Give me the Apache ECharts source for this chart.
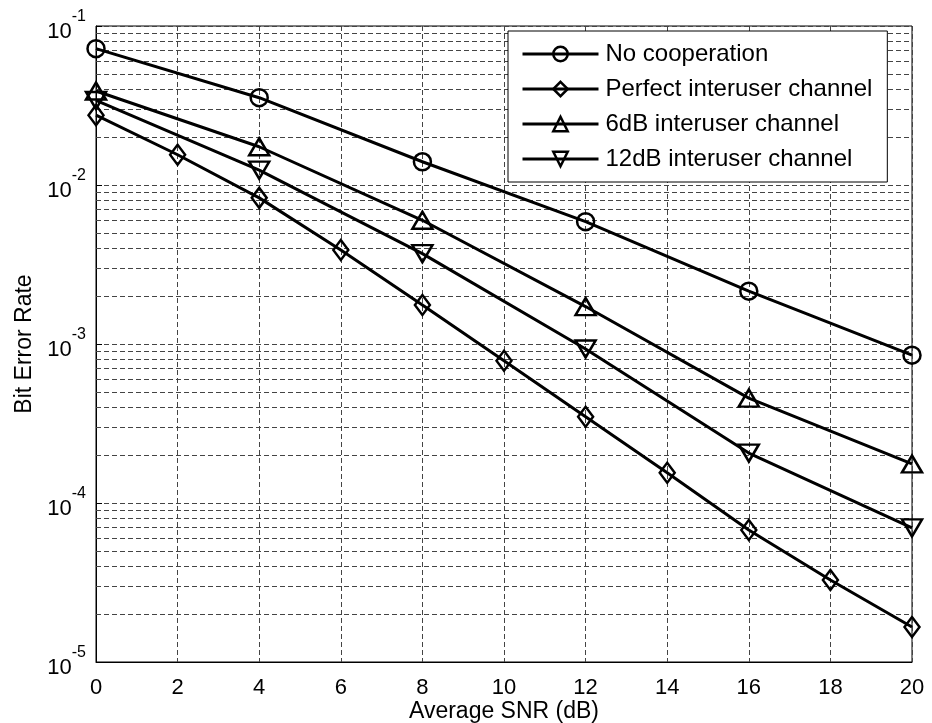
<!DOCTYPE html>
<html style="height: 100%">
<head>
<meta charset="utf-8">
</head>
<body style="height: 100%; margin: 0; background: #fff">
<div id="container" style="width: 932px; height: 723px"></div>
<script type="text/javascript" src="https://cdn.jsdelivr.net/npm/echarts@6/dist/echarts.min.js"></script>
<script type="text/javascript">
var snrAll = [0, 2, 4, 6, 8, 10, 12, 14, 16, 18, 20];
var snrStep4 = [0, 4, 8, 12, 16, 20];

var noCoop = [0.072, 0.0354, 0.0140, 0.00588, 0.00215, 0.00085];
var perfect = [0.0275, 0.0155, 0.0083, 0.0039, 0.00176, 0.000785, 0.000349, 0.000155, 0.0000676, 0.0000328, 0.0000166];
var db6 = [0.039, 0.0174, 0.0060, 0.00172, 0.000457, 0.000176];
var db12 = [0.034, 0.0124, 0.0037, 0.00093, 0.000206, 0.0000697];

// minor grid values 2..9 x each decade
var minorTicks = [];
[1e-5, 1e-4, 1e-3, 1e-2].forEach(function (d) {
  for (var k = 2; k <= 9; k++) minorTicks.push(+(d * k).toPrecision(3));
});

var FONT = '"Liberation Sans", Arial, sans-serif';
var gridDash = { color: '#444', width: 1, type: [5, 3] };

function pairs(xs, ys) {
  return ys.map(function (v, i) { return [xs[i], v]; });
}

function lineSeries(name, xs, ys, symbol, size, rotate) {
  return {
    name: name,
    type: 'line',
    data: pairs(xs, ys),
    symbol: symbol,
    symbolSize: size,
    symbolRotate: rotate || 0,
    showAllSymbol: true,
    lineStyle: { color: '#000', width: 3 },
    itemStyle: { color: 'transparent', borderColor: '#000', borderWidth: 2.5 },
    emphasis: { disabled: true },
    z: 3
  };
}

var dom = document.getElementById('container');
var myChart = echarts.init(dom);

var series = [
  lineSeries('No cooperation', snrStep4, noCoop, 'circle', 17),
  lineSeries('Perfect interuser channel', snrAll, perfect, 'diamond', [15, 20]),
  lineSeries('6dB interuser channel', snrStep4, db6, 'triangle', [20, 17]),
  lineSeries('12dB interuser channel', snrStep4, db12, 'triangle', [20, 17], 180)
];
series[0].markLine = {
  silent: true,
  symbol: 'none',
  precision: 12,
  label: { show: false },
  lineStyle: gridDash,
  emphasis: { disabled: true },
  z: 1,
  data: minorTicks.map(function (v) { return { yAxis: v }; })
};

var option = {
  animation: false,
  backgroundColor: '#fff',
  textStyle: { fontFamily: FONT, color: '#000' },
  grid: {
    left: 96, right: 20, top: 26, bottom: 61,
    outerBoundsMode: 'none',
    containLabel: false,
    show: true, borderColor: '#000', borderWidth: 1
  },
  legend: {
    orient: 'vertical',
    left: 508, top: 31,
    z: 10,
    padding: [11, 15, 11, 13],
    itemGap: 11,
    itemWidth: 76,
    itemHeight: 18,
    backgroundColor: '#fff',
    borderColor: '#000',
    borderWidth: 1,
    lineStyle: { width: 3, color: '#000' },
    itemStyle: { borderWidth: 2.5, borderColor: '#000', color: 'transparent' },
    textStyle: { fontSize: 24, fontFamily: FONT, color: '#000', padding: [0, 0, 0, 2] },
    selectedMode: false
  },
  xAxis: {
    type: 'value',
    min: 0, max: 20, interval: 2,
    name: 'Average SNR (dB)',
    nameLocation: 'middle',
    nameGap: 38,
    nameMoveOverlap: false,
    nameTextStyle: { fontSize: 23, color: '#000' },
    axisLine: { lineStyle: { color: '#000' } },
    axisTick: { show: false },
    axisLabel: { fontSize: 22, color: '#000', margin: 15 },
    splitLine: { show: true, lineStyle: gridDash }
  },
  yAxis: {
    type: 'log',
    logBase: 10,
    min: 1e-5, max: 0.1,
    name: 'Bit Error Rate',
    nameLocation: 'middle',
    nameGap: 60,
    nameMoveOverlap: false,
    nameTextStyle: { fontSize: 23, color: '#000' },
    axisLine: { lineStyle: { color: '#000' } },
    axisTick: { show: true, inside: true, length: 6, lineStyle: { color: '#000' } },
    axisLabel: {
      margin: 10,
      formatter: function (v) {
        var e = Math.round(Math.log10(v));
        return '{b|10}{e|' + e + '}';
      },
      rich: {
        b: { fontSize: 22, color: '#000', fontFamily: FONT, lineHeight: 34, verticalAlign: 'bottom' },
        e: { fontSize: 16, color: '#000', fontFamily: FONT, lineHeight: 34, verticalAlign: 'top' }
      }
    },
    splitLine: { show: true, lineStyle: gridDash }
  },
  series: series
};

myChart.setOption(option);
</script>
</body>
</html>
